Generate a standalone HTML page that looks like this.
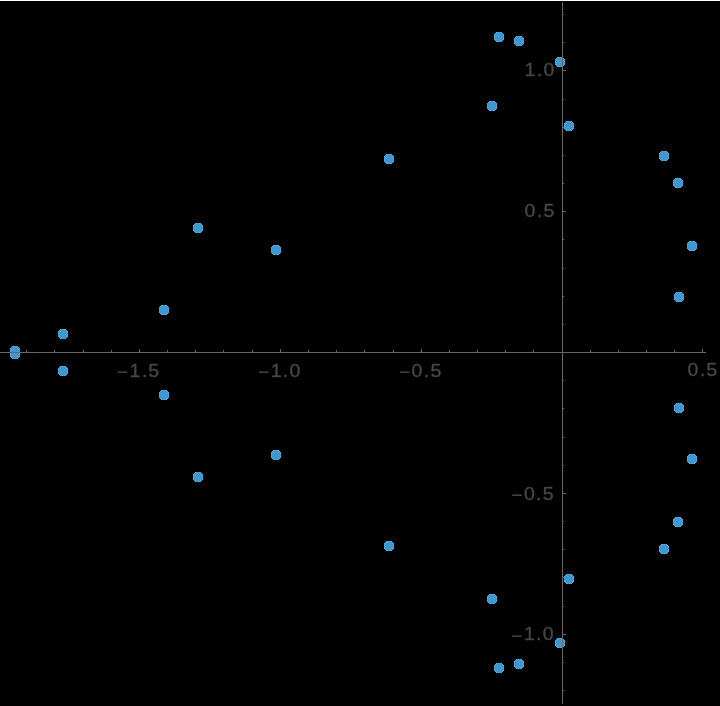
<!DOCTYPE html>
<html lang="en">
<head>
<meta charset="utf-8">
<title>Complex roots plot</title>
<style>
html,body{margin:0;padding:0;background:#000;}
body{width:720px;height:706px;overflow:hidden;}
svg{display:block;}
text{font-family:"Liberation Sans",sans-serif;font-size:19.0px;fill:#464646;stroke:#464646;stroke-width:0.35px;}
.lbl{filter:grayscale(1);}
</style>
</head>
<body>
<svg width="720" height="706" viewBox="0 0 720 706">
<rect x="0" y="0" width="720" height="706" fill="#000"/>
<rect x="0" y="0" width="720" height="1" fill="#fff"/>
<defs><path id="po" d="M-3 -5h6v1h-6zM-4 -4h8v1h-8zM-5 -3h10v1h-10zM-5 -2h10v1h-10zM-5 -1h10v1h-10zM-5 0h10v1h-10zM-5 1h10v1h-10zM-5 2h10v1h-10zM-4 3h8v1h-8zM-3 4h6v1h-6z"/><path id="pc" d="M-3 -5h1v1h-1zM2 -5h1v1h-1zM-4 -4h1v1h-1zM3 -4h1v1h-1zM-5 -3h1v1h-1zM4 -3h1v1h-1zM-5 2h1v1h-1zM4 2h1v1h-1zM-4 3h1v1h-1zM3 3h1v1h-1zM-3 4h1v1h-1zM2 4h1v1h-1z"/><path id="pct" d="M-3 -5h1v1h-1zM2 -5h1v1h-1zM-4 -4h1v1h-1zM3 -4h1v1h-1zM-5 -3h1v1h-1zM4 -3h1v1h-1z"/><path id="pcb" d="M-5 2h1v1h-1zM4 2h1v1h-1zM-4 3h1v1h-1zM3 3h1v1h-1zM-3 4h1v1h-1zM2 4h1v1h-1z"/><path id="pi" d="M-3 -4h6v1h-6zM-4 -3h8v1h-8zM-4 -2h8v1h-8zM-4 -1h8v1h-8zM-4 0h8v1h-8zM-4 1h8v1h-8zM-4 2h8v1h-8zM-3 3h6v1h-6z"/></defs>
<g fill="#45a3da" shape-rendering="crispEdges">
<use href="#po" x="499" y="37"/>
<use href="#po" x="499" y="668"/>
<use href="#po" x="519" y="41"/>
<use href="#po" x="519" y="664"/>
<use href="#po" x="560" y="62"/>
<use href="#po" x="560" y="643"/>
<use href="#po" x="492" y="106"/>
<use href="#po" x="492" y="599"/>
<use href="#po" x="198" y="228"/>
<use href="#po" x="198" y="477"/>
<use href="#po" x="276" y="250"/>
<use href="#po" x="276" y="455"/>
<use href="#po" x="164" y="310"/>
<use href="#po" x="164" y="395"/>
<use href="#po" x="63" y="334"/>
<use href="#po" x="63" y="371"/>
<use href="#po" x="15" y="351"/>
<use href="#po" x="15" y="354"/>
<use href="#po" x="389" y="159"/>
<use href="#po" x="389" y="546"/>
<use href="#po" x="664" y="156"/>
<use href="#po" x="664" y="549"/>
<use href="#po" x="678" y="183"/>
<use href="#po" x="678" y="522"/>
<use href="#po" x="692" y="246"/>
<use href="#po" x="692" y="459"/>
<use href="#po" x="679" y="297"/>
<use href="#po" x="679" y="408"/>
<use href="#po" x="569" y="126"/>
<use href="#po" x="569" y="579"/>
</g>
<g fill="#4daee8" shape-rendering="crispEdges">
<use href="#pc" x="499" y="37"/>
<use href="#pc" x="499" y="668"/>
<use href="#pc" x="519" y="41"/>
<use href="#pc" x="519" y="664"/>
<use href="#pc" x="560" y="62"/>
<use href="#pc" x="560" y="643"/>
<use href="#pc" x="492" y="106"/>
<use href="#pc" x="492" y="599"/>
<use href="#pc" x="198" y="228"/>
<use href="#pc" x="198" y="477"/>
<use href="#pc" x="276" y="250"/>
<use href="#pc" x="276" y="455"/>
<use href="#pc" x="164" y="310"/>
<use href="#pc" x="164" y="395"/>
<use href="#pc" x="63" y="334"/>
<use href="#pc" x="63" y="371"/>
<use href="#pct" x="15" y="351"/>
<use href="#pcb" x="15" y="354"/>
<use href="#pc" x="389" y="159"/>
<use href="#pc" x="389" y="546"/>
<use href="#pc" x="664" y="156"/>
<use href="#pc" x="664" y="549"/>
<use href="#pc" x="678" y="183"/>
<use href="#pc" x="678" y="522"/>
<use href="#pc" x="692" y="246"/>
<use href="#pc" x="692" y="459"/>
<use href="#pc" x="679" y="297"/>
<use href="#pc" x="679" y="408"/>
<use href="#pc" x="569" y="126"/>
<use href="#pc" x="569" y="579"/>
</g>
<g fill="#3e98cd" shape-rendering="crispEdges">
<use href="#pi" x="499" y="37"/>
<use href="#pi" x="499" y="668"/>
<use href="#pi" x="519" y="41"/>
<use href="#pi" x="519" y="664"/>
<use href="#pi" x="560" y="62"/>
<use href="#pi" x="560" y="643"/>
<use href="#pi" x="492" y="106"/>
<use href="#pi" x="492" y="599"/>
<use href="#pi" x="198" y="228"/>
<use href="#pi" x="198" y="477"/>
<use href="#pi" x="276" y="250"/>
<use href="#pi" x="276" y="455"/>
<use href="#pi" x="164" y="310"/>
<use href="#pi" x="164" y="395"/>
<use href="#pi" x="63" y="334"/>
<use href="#pi" x="63" y="371"/>
<use href="#pi" x="15" y="351"/>
<use href="#pi" x="15" y="354"/>
<use href="#pi" x="389" y="159"/>
<use href="#pi" x="389" y="546"/>
<use href="#pi" x="664" y="156"/>
<use href="#pi" x="664" y="549"/>
<use href="#pi" x="678" y="183"/>
<use href="#pi" x="678" y="522"/>
<use href="#pi" x="692" y="246"/>
<use href="#pi" x="692" y="459"/>
<use href="#pi" x="679" y="297"/>
<use href="#pi" x="679" y="408"/>
<use href="#pi" x="569" y="126"/>
<use href="#pi" x="569" y="579"/>
</g>
<g fill="#686868">
<rect x="0" y="352" width="706" height="1"/>
<rect x="562" y="2" width="1" height="702"/>
<rect x="26" y="350" width="1" height="2"/>
<rect x="54" y="350" width="1" height="2"/>
<rect x="83" y="350" width="1" height="2"/>
<rect x="111" y="350" width="1" height="2"/>
<rect x="139" y="349" width="1" height="3"/>
<rect x="167" y="350" width="1" height="2"/>
<rect x="195" y="350" width="1" height="2"/>
<rect x="223" y="350" width="1" height="2"/>
<rect x="252" y="350" width="1" height="2"/>
<rect x="280" y="349" width="1" height="3"/>
<rect x="308" y="350" width="1" height="2"/>
<rect x="336" y="350" width="1" height="2"/>
<rect x="364" y="350" width="1" height="2"/>
<rect x="393" y="350" width="1" height="2"/>
<rect x="421" y="349" width="1" height="3"/>
<rect x="449" y="350" width="1" height="2"/>
<rect x="477" y="350" width="1" height="2"/>
<rect x="505" y="350" width="1" height="2"/>
<rect x="533" y="350" width="1" height="2"/>
<rect x="590" y="350" width="1" height="2"/>
<rect x="618" y="350" width="1" height="2"/>
<rect x="646" y="350" width="1" height="2"/>
<rect x="674" y="350" width="1" height="2"/>
<rect x="702" y="349" width="1" height="3"/>
<rect x="563" y="14" width="1" height="1"/>
<rect x="563" y="42" width="1" height="1"/>
<rect x="563" y="70" width="3" height="1"/>
<rect x="563" y="99" width="1" height="1"/>
<rect x="563" y="127" width="1" height="1"/>
<rect x="563" y="155" width="1" height="1"/>
<rect x="563" y="183" width="1" height="1"/>
<rect x="563" y="211" width="3" height="1"/>
<rect x="563" y="239" width="1" height="1"/>
<rect x="563" y="268" width="1" height="1"/>
<rect x="563" y="296" width="1" height="1"/>
<rect x="563" y="324" width="1" height="1"/>
<rect x="563" y="380" width="1" height="1"/>
<rect x="563" y="408" width="1" height="1"/>
<rect x="563" y="437" width="1" height="1"/>
<rect x="563" y="465" width="1" height="1"/>
<rect x="563" y="493" width="3" height="1"/>
<rect x="563" y="521" width="1" height="1"/>
<rect x="563" y="549" width="1" height="1"/>
<rect x="563" y="577" width="1" height="1"/>
<rect x="563" y="606" width="1" height="1"/>
<rect x="563" y="634" width="3" height="1"/>
<rect x="563" y="662" width="1" height="1"/>
<rect x="563" y="690" width="1" height="1"/>
</g>
<g class="lbl">
<text transform="scale(1.03,1)" x="113.67 125.67 137.75 144.01" y="377.79 376.90 376.90 376.90"><tspan font-size="18.0">−</tspan>1.5</text>
<text transform="scale(1.03,1)" x="250.66 262.76 274.64 281.17" y="377.79 376.90 376.90 376.90"><tspan font-size="18.0">−</tspan>1.0</text>
<text transform="scale(1.03,1)" x="387.51 399.57 411.34 417.94" y="377.79 376.90 376.90 376.90"><tspan font-size="18.0">−</tspan>0.5</text>
<text transform="scale(1.03,1)" x="667.43 679.50 685.71" y="376.50 376.50 376.50">0.5</text>
<text transform="scale(1.03,1)" x="509.17 521.39 527.63" y="76.40 76.40 76.40">1.0</text>
<text transform="scale(1.03,1)" x="509.33 521.39 527.65" y="217.50 217.50 217.50">0.5</text>
<text transform="scale(1.03,1)" x="496.63 508.70 520.52 526.97" y="500.84 499.70 499.70 499.70"><tspan font-size="18.0">−</tspan>0.5</text>
<text transform="scale(1.03,1)" x="496.44 508.68 520.52 527.05" y="641.69 640.50 640.50 640.50"><tspan font-size="18.0">−</tspan>1.0</text>
</g>
</svg>
</body>
</html>
